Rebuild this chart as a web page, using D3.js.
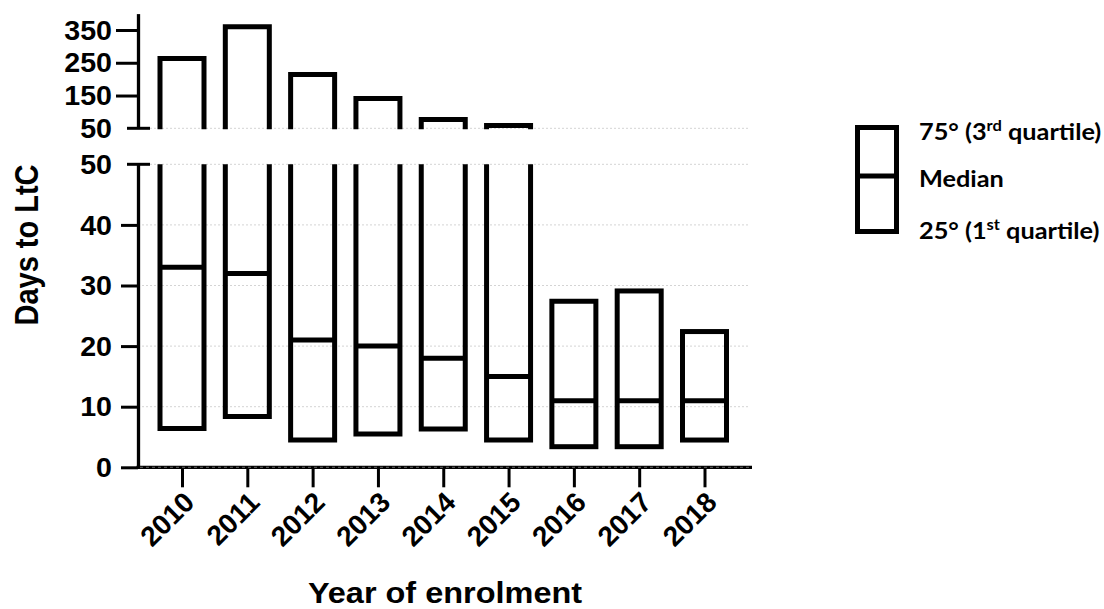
<!DOCTYPE html>
<html>
<head>
<meta charset="utf-8">
<script src="https://cdn.jsdelivr.net/npm/d3@7"></script>
<style>
  html, body { margin: 0; padding: 0; background: #fff; }
  svg { display: block; }
</style>
</head>
<body>
<svg id="chart" width="1104" height="609"></svg>
<script>
// ---- data ----
const years = ["2010", "2011", "2012", "2013", "2014", "2015", "2016", "2017", "2018"];
const q1 = [6.4, 8.4, 4.5, 5.5, 6.3, 4.5, 3.4, 3.4, 4.5];
const median = [33, 32, 21, 20, 18, 15, 11, 11, 11];
const q3 = [263, 360, 214, 141, 77, 58.5, 27.4, 29.1, 22.4];
const lowTicks = [0, 10, 20, 30, 40, 50];
const highTicks = [50, 150, 250, 350];
const legendLabels = [
  { pre: "75° (3", sup: "rd", post: " quartile)" },
  { pre: "Median", sup: "", post: "" },
  { pre: "25° (1", sup: "st", post: " quartile)" }
];
const xTitle = "Year of enrolment";
const yTitle = "Days to LtC";

// ---- layout ----
const svg = d3.select("#chart");
const axisX0 = 138, axisX1 = 752;
const x = d3.scalePoint().domain(years).range([182, 704.5]);
const yLow = d3.scaleLinear().domain([0, 50]).range([467.3, 164.3]);
const yHigh = d3.scaleLinear().domain([50, 400]).range([128.3, 13.6]);
const half = 22;
const SW = 5;
const numFont = "'Liberation Sans', Arial, sans-serif";

// ---- gridlines ----
const grid = svg.append("g");
lowTicks.filter(d => d > 0).forEach(d => {
  grid.append("line").attr("x1", axisX0).attr("x2", 750)
    .attr("y1", yLow(d)).attr("y2", yLow(d))
    .attr("stroke", "#d4d4d4").attr("stroke-width", 1).attr("stroke-dasharray", "2,2");
});
grid.append("line").attr("x1", axisX0).attr("x2", 750)
  .attr("y1", yHigh(50)).attr("y2", yHigh(50))
  .attr("stroke", "#d4d4d4").attr("stroke-width", 1).attr("stroke-dasharray", "2,2");

// ---- bars ----
const bars = svg.append("g").attr("fill", "none").attr("stroke", "#000")
  .attr("stroke-width", SW).attr("stroke-linejoin", "miter");
years.forEach((yr, i) => {
  const cx = x(yr);
  if (q3[i] <= 50) {
    bars.append("rect").attr("x", cx - half).attr("width", 2 * half)
      .attr("y", yLow(q3[i])).attr("height", yLow(q1[i]) - yLow(q3[i]));
  } else {
    bars.append("path").attr("d",
      `M${cx - half},${yLow(50)} V${yLow(q1[i])} H${cx + half} V${yLow(50)}`);
    bars.append("path").attr("d",
      `M${cx - half},${yHigh(50) + 1} V${yHigh(q3[i])} H${cx + half} V${yHigh(50) + 1}`);
  }
  bars.append("line").attr("x1", cx - half).attr("x2", cx + half)
    .attr("y1", yLow(median[i])).attr("y2", yLow(median[i]));
});

// ---- axes ----
const axLow = svg.append("g").attr("transform", `translate(${axisX0},0)`)
  .call(d3.axisLeft(yLow).tickValues(lowTicks.filter(d => d < 50)).tickSize(17).tickSizeOuter(0).tickFormat(""));
const axHigh = svg.append("g").attr("transform", `translate(${axisX0},0)`)
  .call(d3.axisLeft(yHigh).tickValues(highTicks.filter(d => d > 50)).tickSize(22).tickSizeOuter(0).tickFormat(""));
[axLow, axHigh].forEach(a => {
  a.select(".domain").attr("stroke", "#000").attr("stroke-width", 3.3);
  a.selectAll(".tick line").attr("stroke", "#000").attr("stroke-width", 3);
});
// break marks at 50
[yLow(50), yHigh(50)].forEach(yy => {
  svg.append("line").attr("x1", 127).attr("x2", 150).attr("y1", yy).attr("y2", yy)
    .attr("stroke", "#000").attr("stroke-width", 3);
});

// y tick labels
function stretchedText(g, tx, ty, txt, size, anchor, sx) {
  return g.append("text")
    .attr("transform", `translate(${tx},${ty}) scale(${sx},1)`)
    .attr("text-anchor", anchor).attr("dy", "0.36em")
    .attr("font-family", numFont).attr("font-weight", "bold")
    .attr("font-size", size).attr("fill", "#000").text(txt);
}
const ylab = svg.append("g");
lowTicks.forEach(d => stretchedText(ylab, 112, yLow(d), d, 27, "end", 1.06));
highTicks.forEach(d => stretchedText(ylab, 112, yHigh(d), d, 27, "end", 1.06));

// x axis
const axX = svg.append("g").attr("transform", `translate(0,${yLow(0)})`)
  .call(d3.axisBottom(x).tickSize(20).tickSizeOuter(0).tickFormat(""));
axX.select(".domain").remove();
axX.selectAll(".tick line").attr("stroke", "#000").attr("stroke-width", 3);
svg.append("line").attr("x1", axisX0 - 1.5).attr("x2", axisX1)
  .attr("y1", yLow(0)).attr("y2", yLow(0))
  .attr("stroke", "#000").attr("stroke-width", 3.3);
svg.append("line").attr("x1", axisX0 + 2).attr("x2", axisX1)
  .attr("y1", yLow(0)).attr("y2", yLow(0))
  .attr("stroke", "#666").attr("stroke-width", 1).attr("stroke-dasharray", "3,3");

// x tick labels
svg.append("g").selectAll("text").data(years).join("text")
  .attr("transform", d => `translate(${x(d) + 14},${504}) rotate(-45)`)
  .attr("text-anchor", "end")
  .attr("font-family", numFont).attr("font-weight", "bold")
  .attr("font-size", 28).attr("fill", "#000").text(d => d);

// axis titles
svg.append("text")
  .attr("transform", `translate(445,603) scale(1.12,1)`)
  .attr("text-anchor", "middle")
  .attr("font-family", numFont).attr("font-weight", "bold")
  .attr("font-size", 29).attr("fill", "#000").text(xTitle);
svg.append("text")
  .attr("transform", `translate(38,245) scale(1.15,1) rotate(-90)`)
  .attr("text-anchor", "middle")
  .attr("font-family", numFont).attr("font-weight", "bold")
  .attr("font-size", 29).attr("fill", "#000").text(yTitle);

// ---- legend ----
const lg = svg.append("g");
lg.append("rect").attr("x", 857.5).attr("y", 127.5).attr("width", 39).attr("height", 104)
  .attr("fill", "none").attr("stroke", "#000").attr("stroke-width", SW);
lg.append("line").attr("x1", 857.5).attr("x2", 896.5).attr("y1", 176).attr("y2", 176)
  .attr("stroke", "#000").attr("stroke-width", SW);
const lgY = [140, 187, 239];
legendLabels.forEach((l, i) => {
  const t = lg.append("text")
    .attr("transform", `translate(919,${lgY[i]}) scale(1.1,1)`)
    .attr("font-family", "Lato, 'Open Sans', sans-serif").attr("font-weight", "bold")
    .attr("font-size", 23).attr("fill", "#000");
  t.append("tspan").text(l.pre);
  if (l.sup) {
    t.append("tspan").attr("font-size", 15).attr("dy", -9).text(l.sup);
    t.append("tspan").attr("dy", 9).text(l.post);
  }
});
</script>
</body>
</html>
